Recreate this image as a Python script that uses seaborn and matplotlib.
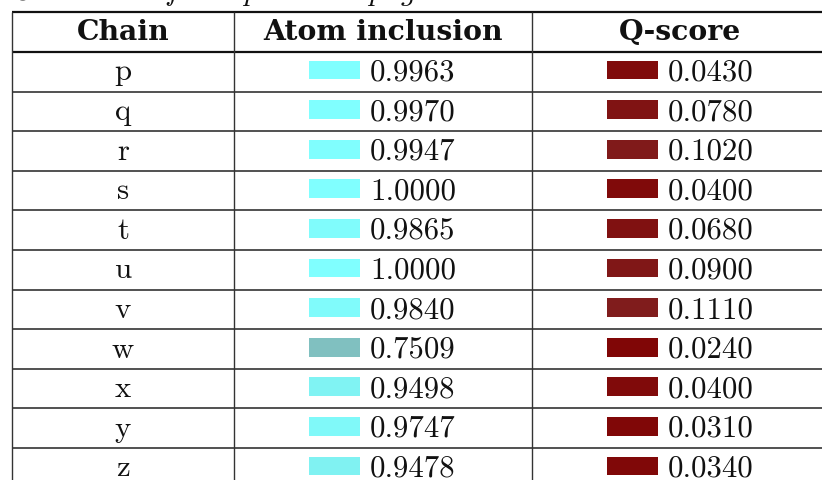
import matplotlib
matplotlib.use("Agg")
import matplotlib.pyplot as plt
from matplotlib.colors import LinearSegmentedColormap
import seaborn as sns
import pandas as pd
import numpy as np

# table contents
chains = ["p", "q", "r", "s", "t", "u", "v", "w", "x", "y", "z"]
atom_inclusion = [0.9963, 0.9970, 0.9947, 1.0000, 0.9865, 1.0000,
                  0.9840, 0.7509, 0.9498, 0.9747, 0.9478]
q_score = [0.0430, 0.0780, 0.1020, 0.0400, 0.0680, 0.0900,
           0.1110, 0.0240, 0.0400, 0.0310, 0.0340]
headers = ["Chain", "Atom inclusion", "Q-score"]
caption = r"$\mathit{Continued\ from\ previous\ page}$"

sns.set_theme(style="white")
plt.rcParams["font.family"] = ["cmr10", "DejaVu Serif"]
plt.rcParams["mathtext.fontset"] = "cm"

# swatch colour goes from (0.5, 0, 0) at 0 to (0.5, 1, 1) at 1
swatch_cmap = LinearSegmentedColormap.from_list("swatch", [(0.5, 0, 0), (0.5, 1, 1)])

W, H = 822, 480
fig = plt.figure(figsize=(W / 100, H / 100), dpi=100)
ax = fig.add_axes([0, 0, 1, 1])

# layout (pixel units)
col_edges = [12, 234, 532, 828]
top, head_bot, row_h = 12, 52, 39.6
n = len(chains)
row_tops = head_bot + row_h * np.arange(n)
fs = 22.2

# swatches
sw_w = 51
rect = [(-1, -0.3725), (1, -0.3725), (1, 0.3725), (-1, 0.3725)]
size_pt = sw_w * 72 / 100
df = pd.DataFrame({
    "x": [334.5] * n + [632.5] * n,
    "y": list(row_tops + 18) * 2,
    "value": atom_inclusion + q_score,
})
sns.scatterplot(data=df, x="x", y="y", hue="value", palette=swatch_cmap,
                hue_norm=(0, 1), marker=rect, s=size_pt ** 2,
                linewidth=0, edgecolor="none", legend=False, ax=ax)
ax.set_xlim(0, W)
ax.set_ylim(H, 0)
ax.axis("off")

# grid lines
ax.hlines([top, head_bot], col_edges[0], W + 10, color="#111111", lw=1.6)
ax.hlines(row_tops[1:], col_edges[0], W + 10, color="#222222", lw=1.1)
ax.vlines(col_edges[:3], top, H + 10, color="#333333", lw=1.0)

# caption, mostly above the visible area; scale it to span ~x 12..430
cap = ax.text(12, 0.5, caption, ha="left", va="baseline", fontsize=21.7, color="#111111")
fig.canvas.draw()
cap_w = cap.get_window_extent().width
cap.set_fontsize(21.7 * 418 / cap_w)

# header
for i, h in enumerate(headers):
    cx = (col_edges[i] + col_edges[i + 1]) / 2
    ax.text(cx, 40, h, ha="center", va="baseline", fontsize=20.3,
            family="DejaVu Serif", fontweight="bold", color="#111111")

# chain names
for y0, c in zip(row_tops, chains):
    ax.text(123, y0 + 28.5, c, ha="center", va="baseline", fontsize=fs, color="#111111")

# values
for y0, a, q in zip(row_tops, atom_inclusion, q_score):
    ax.text(370, y0 + 28.5, f"{a:.4f}", ha="left", va="baseline", fontsize=fs, color="#111111")
    ax.text(668, y0 + 28.5, f"{q:.4f}", ha="left", va="baseline", fontsize=fs, color="#111111")

fig.savefig("out.png", dpi=100)
